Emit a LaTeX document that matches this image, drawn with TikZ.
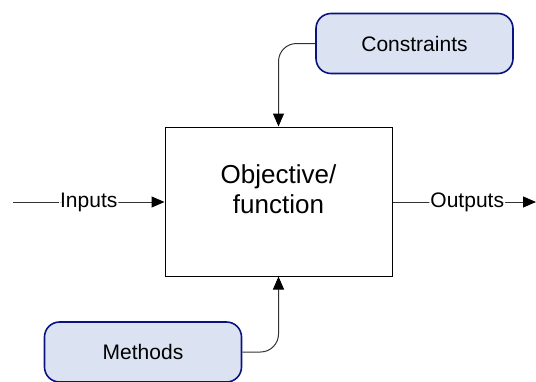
\documentclass[tikz,border=0pt]{standalone}
\usepackage{fontspec}
\setmainfont{Liberation Sans}
\usetikzlibrary{arrows.meta}
\definecolor{boxfill}{RGB}{219,227,243}
\definecolor{boxedge}{RGB}{10,20,128}
\definecolor{conncol}{RGB}{50,50,50}
\begin{document}
\begin{tikzpicture}[x=1pt,y=-1pt,
  font=\fontsize{21}{25}\selectfont,
  mainbox/.style={draw=black, line width=1pt, minimum width=227pt, minimum height=149pt, inner sep=0pt},
  sidebox/.style={draw=boxedge, fill=boxfill, line width=1.6pt, rounded corners=15pt, minimum width=197pt, minimum height=60pt, inner sep=0pt},
  conn/.style={draw=conncol, line width=1pt, rounded corners=18pt, -{Triangle[length=13pt,width=11pt,color=black]}},
  lbl/.style={fill=white, inner sep=1pt}]
\useasboundingbox (0,0) rectangle (536,381);
\node[mainbox] (obj) at (278.5,201.5) {};
\node[align=center, font=\fontsize{26}{30}\selectfont] (objtext) at (278.5,189) {Objective/\\function};
\node[sidebox] (cons) at (414.5,43.5) {Constraints};
\node[sidebox] (meth) at (143,352) {Methods};
\coordinate (inStart) at (13,202);
\coordinate (outEnd) at (536,202);
\draw[conn] (cons.west) -| (obj.north);
\draw[conn] (meth.east) -| (obj.south);
\draw[conn] (inStart) -- node[lbl] (inlbl) {Inputs} (inStart -| obj.west);
\draw[conn] (outEnd -| obj.east) -- node[lbl, xshift=3pt] (outlbl) {Outputs} (outEnd);
\end{tikzpicture}
\end{document}
